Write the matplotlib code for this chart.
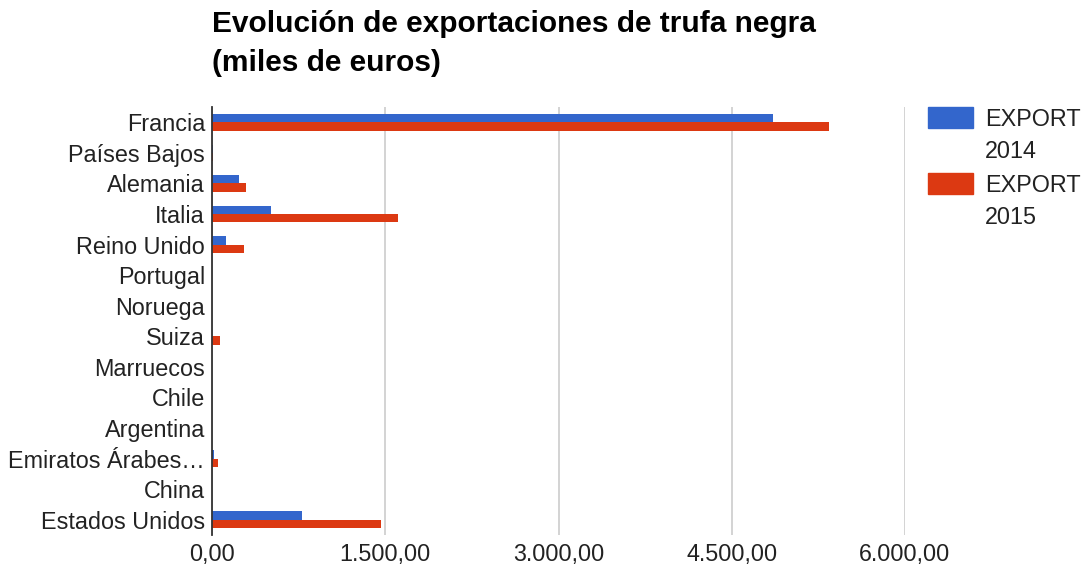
import numpy as np
import matplotlib.pyplot as plt
from matplotlib.patches import Rectangle

# datos (miles de euros)
paises = ['Francia', 'Países Bajos', 'Alemania', 'Italia', 'Reino Unido',
          'Portugal', 'Noruega', 'Suiza', 'Marruecos', 'Chile', 'Argentina',
          'Emiratos Árabes…', 'China', 'Estados Unidos']
export_2014 = [4853, 12, 234, 508, 119, 0, 0, 2, 0, 0, 0, 15, 0, 780]
export_2015 = [5340, 6, 298, 1611, 281, 0, 0, 72, 0, 0, 0, 55, 0, 1463]
ticks_x = [0, 1500, 3000, 4500, 6000]
tick_labels = ['0,00', '1.500,00', '3.000,00', '4.500,00', '6.000,00']
series = ['EXPORT\n2014', 'EXPORT\n2015']
colores = ['#3366cc', '#dc3912']

plt.rcParams['font.family'] = ['Liberation Sans', 'DejaVu Sans']

W, H = 1081, 576
fig = plt.figure(figsize=(W / 100, H / 100), dpi=100)
fig.set_facecolor('white')

# eje en coordenadas de pixel
x0, x1, y0, y1 = 212, 905, 107, 535
ax = fig.add_axes([x0 / W, (H - y1) / H, (x1 - x0) / W, (y1 - y0) / H])

y = np.arange(len(paises))
h = 0.27
ax.barh(y - h / 2, export_2014, height=h, color=colores[0], zorder=3)
ax.barh(y + h / 2, export_2015, height=h, color=colores[1], zorder=3)

ax.set_ylim(len(paises) - 0.5, -0.5)
ax.set_xlim(0, 6000)
ax.set_yticks(y)
ax.set_yticklabels(paises, fontsize=16.8, color='#222222')
ax.set_xticks(ticks_x)
ax.set_xticklabels(tick_labels, fontsize=16.8, color='#222222')
ax.tick_params(length=0)
ax.tick_params(axis='y', pad=5)
ax.tick_params(axis='x', pad=6)

for s in ['top', 'right', 'bottom']:
    ax.spines[s].set_visible(False)
ax.spines['left'].set_color('#333333')
ax.spines['left'].set_linewidth(1.3)
ax.spines['left'].set_zorder(4)
ax.grid(axis='x', color='#cccccc', linewidth=1.2, zorder=0)
ax.set_axisbelow(True)

# titulo
fig.text(212 / W, 1 - 10 / H, 'Evolución de exportaciones de trufa negra\n(miles de euros)',
         fontsize=21.5, fontweight='bold', ha='left', va='top',
         linespacing=1.5, color='#000000')

# leyenda
for i, (lab, c) in enumerate(zip(series, colores)):
    top = 107 + i * 66
    fig.patches.append(Rectangle((928 / W, 1 - (top + 21) / H), 45 / W, 21 / H,
                                 transform=fig.transFigure, color=c))
    fig.text(985 / W, 1 - (top + 1) / H, lab, fontsize=16.8, ha='left', va='top',
             linespacing=1.5, color='#222222')

fig.savefig('out.png', dpi=100)
